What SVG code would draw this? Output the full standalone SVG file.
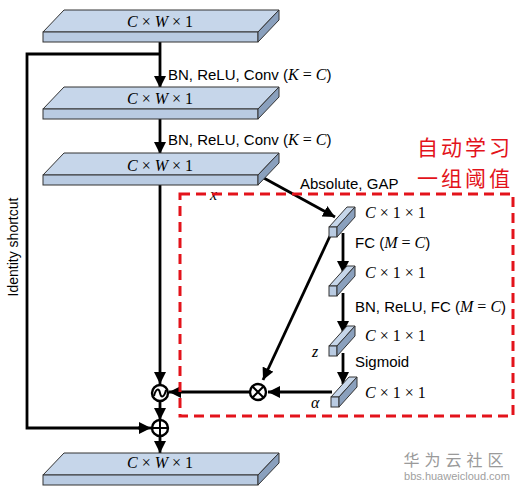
<svg xmlns="http://www.w3.org/2000/svg" width="524" height="489" viewBox="0 0 524 489">
<defs>
<marker id="ah" markerUnits="userSpaceOnUse" markerWidth="12" markerHeight="12" refX="12" refY="6" orient="auto">
<path d="M0,0 L12,6 L0,12 z" fill="#000"/>
</marker>
<g id="slab">
<path class="top" d="M43,22 L64,0 L279,0 L258,22 Z"/>
<rect class="front" x="43" y="22" width="215" height="10"/>
<path class="side" d="M258,22 L279,0 L279,10 L258,32 Z"/>
</g>
<g id="cube">
<path class="top" d="M0,0 L18,-20 L26,-20 L8,0 Z"/>
<rect class="front" x="0" y="0" width="8" height="10"/>
<path class="side" d="M8,0 L26,-20 L26,-10 L8,10 Z"/>
</g>
</defs>
<style>
.top{fill:#c6d6ea;stroke:#333;stroke-width:1}
.front{fill:#b9cbe2;stroke:#333;stroke-width:1}
.side{fill:#8aa0bd;stroke:#333;stroke-width:1}
.ln{fill:none;stroke:#000;stroke-width:2.8}
.arr{fill:none;stroke:#000;stroke-width:2.8;marker-end:url(#ah)}
.lbl{font-family:"Liberation Sans",Arial,sans-serif;font-size:15px;fill:#000}
.math{font-family:"Liberation Serif","Times New Roman",serif;font-size:16px;fill:#000}
.it{font-style:italic}
.op{fill:#fff;stroke:#000;stroke-width:2.4}
.red{font-family:"Noto Sans CJK SC",sans-serif;font-size:21px;fill:#e3131b;letter-spacing:3px}
</style>

<g id="connectors">
<line class="arr" x1="160" y1="42" x2="160" y2="88"/>
<line class="arr" x1="160" y1="119" x2="160" y2="154"/>
<line class="arr" x1="160" y1="185" x2="160" y2="384"/>
<line class="arr" x1="160" y1="401" x2="160" y2="420"/>
<line class="arr" x1="160" y1="436" x2="160" y2="453"/>
<polyline class="ln" points="160,54 27,54 27,428 140,428"/>
<line class="arr" x1="138" y1="428" x2="151" y2="428"/>
<line class="arr" x1="262" y1="177" x2="335" y2="217"/>
<line class="arr" x1="343" y1="233" x2="343" y2="273"/>
<line class="arr" x1="343" y1="293" x2="343" y2="333"/>
<line class="arr" x1="343" y1="353" x2="343" y2="384"/>
<line class="arr" x1="330" y1="236" x2="263" y2="380"/>
<line class="arr" x1="332" y1="392" x2="268" y2="392"/>
<line class="arr" x1="250" y1="392" x2="169" y2="392"/>
</g>

<g id="slab1"><use href="#slab" x="0" y="10"/><text class="math" x="160" y="27" text-anchor="middle"><tspan class="it">C</tspan> × <tspan class="it">W</tspan> × 1</text></g>
<g id="slab2"><use href="#slab" x="0" y="87"/><text class="math" x="160" y="104" text-anchor="middle"><tspan class="it">C</tspan> × <tspan class="it">W</tspan> × 1</text></g>
<g id="slab3"><use href="#slab" x="0" y="153"/><text class="math" x="160" y="171" text-anchor="middle"><tspan class="it">C</tspan> × <tspan class="it">W</tspan> × 1</text></g>
<g id="slab4"><use href="#slab" x="0" y="453"/><text class="math" x="160" y="468" text-anchor="middle"><tspan class="it">C</tspan> × <tspan class="it">W</tspan> × 1</text></g>

<g id="labels">
<text class="lbl" x="168" y="80">BN, ReLU, Conv (<tspan class="math it">K</tspan><tspan class="math"> = </tspan><tspan class="math it">C</tspan>)</text>
<text class="lbl" x="168" y="145">BN, ReLU, Conv (<tspan class="math it">K</tspan><tspan class="math"> = </tspan><tspan class="math it">C</tspan>)</text>
<text class="lbl" x="300" y="189">Absolute, GAP</text>
<text class="math it" x="210" y="200">x</text>
<text class="lbl" transform="translate(18,247) rotate(-90)" text-anchor="middle" style="font-size:14px">Identity shortcut</text>
<text class="lbl" x="355" y="248">FC (<tspan class="math it">M</tspan><tspan class="math"> = </tspan><tspan class="math it">C</tspan>)</text>
<text class="lbl" x="355" y="312">BN, ReLU, FC (<tspan class="math it">M</tspan><tspan class="math"> = </tspan><tspan class="math it">C</tspan>)</text>
<text class="lbl" x="355" y="367">Sigmoid</text>
<text class="math it" x="312" y="357">z</text>
<text class="math it" x="311" y="408">α</text>
</g>

<g id="cube1"><use href="#cube" x="329" y="227"/><text class="math" x="365" y="218"><tspan class="it">C</tspan> × 1 × 1</text></g>
<g id="cube2"><use href="#cube" x="329" y="286"/><text class="math" x="365" y="278"><tspan class="it">C</tspan> × 1 × 1</text></g>
<g id="cube3"><use href="#cube" x="329" y="346"/><text class="math" x="365" y="341"><tspan class="it">C</tspan> × 1 × 1</text></g>
<g id="cube4"><use href="#cube" x="331" y="397"/><text class="math" x="365" y="398"><tspan class="it">C</tspan> × 1 × 1</text></g>

<g id="mult">
<circle class="op" cx="258" cy="392" r="8"/>
<path d="M252.3,386.3 L263.7,397.7 M263.7,386.3 L252.3,397.7" stroke="#000" stroke-width="2"/>
</g>
<g id="soft">
<circle class="op" cx="160" cy="393" r="8"/>
<path d="M154,396 C156,388 159,388 160,393 C161,398 164,398 166,390" fill="none" stroke="#000" stroke-width="2"/>
</g>
<g id="add">
<circle class="op" cx="160" cy="428" r="8"/>
<path d="M152,428 L168,428 M160,420 L160,436" stroke="#000" stroke-width="2"/>
</g>

<g id="threshold-box">
<rect x="180" y="194" width="333" height="222" fill="none" stroke="#e3131b" stroke-width="3" stroke-dasharray="10,6"/>
<text class="red" x="417" y="155">自动学习</text>
<text class="red" x="417" y="186">一组阈值</text>
</g>

<g id="watermark">
<text x="456" y="466" text-anchor="middle" font-family="'Noto Sans CJK SC',sans-serif" font-size="16" fill="#9a9a9a" letter-spacing="5">华为云社区</text>
<text x="457" y="480" text-anchor="middle" font-family="'Liberation Sans',Arial,sans-serif" font-size="11" fill="#a0a0a0">bbs.huaweicloud.com</text>
</g>
</svg>
